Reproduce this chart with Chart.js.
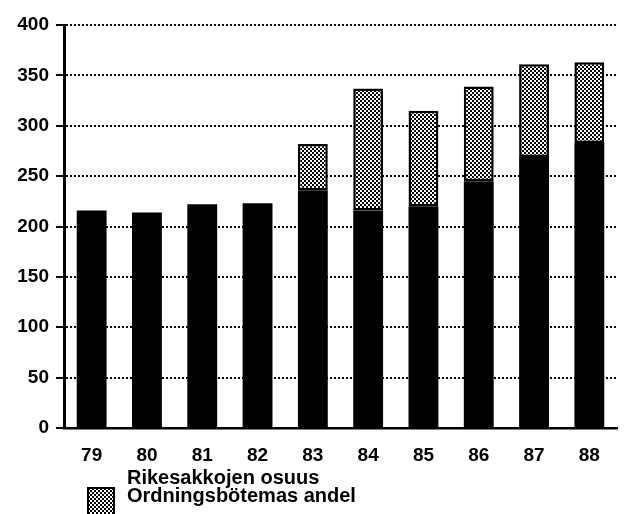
<!DOCTYPE html>
<html lang="fi">
<head>
    <meta charset="UTF-8">
    <title>Rikesakot 1979-1988</title>
    <script src="https://cdn.jsdelivr.net/npm/chart.js"></script>
    <style>
        body {
            margin: 0;
            background: #ffffff;
        }
        .wrap {
            width: 625px;
            height: 514px;
        }
    </style>
</head>
<body>
    <div class="wrap">
        <canvas id="chart" width="625" height="514"></canvas>
    </div>

    <script>
        // data
        const years = ['79', '80', '81', '82', '83', '84', '85', '86', '87', '88'];
        const muut = [216, 214, 222, 223, 236, 216, 220, 245, 269, 283];
        const rikesakot = [0, 0, 0, 0, 46, 121, 95, 94, 92, 80];
        const yTicks = [0, 50, 100, 150, 200, 250, 300, 350, 400];
        const legendLines = ['Rikesakkojen osuus', 'Ordningsbötemas andel'];

        const FONT = "'Liberation Sans', Arial, sans-serif";

        // small checker tile for the hatched part
        function makePattern() {
            const c = document.createElement('canvas');
            c.width = 4;
            c.height = 4;
            const g = c.getContext('2d');
            g.fillStyle = '#ffffff';
            g.fillRect(0, 0, 4, 4);
            g.fillStyle = '#000000';
            g.fillRect(0, 0, 2, 2);
            g.fillRect(2, 2, 2, 2);
            return g.createPattern(c, 'repeat');
        }
        const hatch = makePattern();

        const legendPlugin = {
            id: 'legendBelow',
            afterDraw(chart) {
                const ctx = chart.ctx;
                ctx.save();
                ctx.fillStyle = hatch;
                ctx.fillRect(88, 488, 26, 30);
                ctx.strokeStyle = '#000';
                ctx.lineWidth = 2;
                ctx.strokeRect(88, 488, 26, 30);
                ctx.fillStyle = '#000';
                ctx.font = 'bold 20px ' + FONT;
                ctx.textBaseline = 'alphabetic';
                ctx.fillText(legendLines[0], 127, 484);
                ctx.fillText(legendLines[1], 127, 502);
                ctx.restore();
            }
        };

        new Chart(document.getElementById('chart'), {
            type: 'bar',
            data: {
                labels: years,
                datasets: [{
                    label: 'Muut',
                    data: muut,
                    backgroundColor: '#000000',
                    borderWidth: 0,
                    barPercentage: 0.54,
                    categoryPercentage: 1
                }, {
                    label: legendLines.join(' / '),
                    data: rikesakot,
                    backgroundColor: hatch,
                    borderColor: '#000000',
                    borderWidth: 2.5,
                    borderSkipped: false,
                    barPercentage: 0.54,
                    categoryPercentage: 1
                }]
            },
            options: {
                responsive: false,
                animation: false,
                layout: {
                    padding: { top: 25, right: 8, bottom: 46, left: 0 }
                },
                plugins: {
                    legend: { display: false },
                    tooltip: { enabled: false }
                },
                scales: {
                    x: {
                        stacked: true,
                        grid: { display: false },
                        border: { display: true, color: '#000', width: 2.5 },
                        ticks: {
                            color: '#000',
                            padding: 8,
                            font: { family: FONT, size: 19, weight: 'bold' }
                        },
                        afterFit(scale) { scale.height = 40; }
                    },
                    y: {
                        stacked: true,
                        min: 0,
                        max: 400,
                        afterBuildTicks(scale) {
                            scale.ticks = yTicks.map(v => ({ value: v }));
                        },
                        grid: {
                            color: '#000',
                            lineWidth: 2,
                            tickLength: 8,
                            tickBorderDash: [],
                            tickWidth: 2,
                            tickColor: '#000'
                        },
                        border: { display: true, color: '#000', width: 3, dash: [2, 2] },
                        ticks: {
                            color: '#000',
                            padding: 7,
                            font: { family: FONT, size: 19, weight: 'bold' }
                        },
                        afterFit(scale) { scale.width = 64; }
                    }
                }
            },
            plugins: [legendPlugin]
        });
    </script>
</body>
</html>
